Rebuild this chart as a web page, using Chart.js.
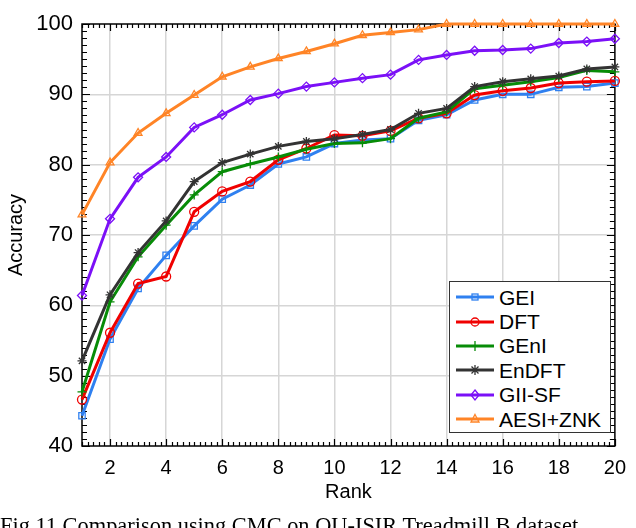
<!DOCTYPE html>
<html>
<head>
<meta charset="utf-8">
<script src="https://cdn.jsdelivr.net/npm/chart.js@4.4.1/dist/chart.umd.min.js"></script>
<style>
  html, body { margin: 0; padding: 0; background: #fff; overflow: hidden; }
  #wrap { position: relative; width: 636px; height: 528px; overflow: hidden; }
  #cmc { position: absolute; left: 0; top: 0; }
  #legend {
    position: absolute; left: 449px; top: 281px; width: 162px; height: 152px;
    border: 1px solid #333; background: #fff; box-sizing: border-box;
    padding-top: 3px;
  }
  .row { height: 24.4px; display: flex; align-items: center; }
  .row svg { margin-left: 6px; margin-right: 5px; }
  .row span { font-family: "Liberation Sans", Arial, sans-serif; font-size: 21px; color: #000; line-height: 1; }
  #caption {
    position: absolute; left: 0; top: 515px; white-space: nowrap;
    font-family: "Liberation Serif", "Times New Roman", serif; font-size: 22.4px; line-height: 1; color: #000;
  }
</style>
</head>
<body>
<div id="wrap">
  <canvas id="cmc" width="636" height="528"></canvas>
  <div id="legend"></div>
  <div id="caption">Fig.11 Comparison using CMC on OU-ISIR Treadmill B dataset</div>
</div>
<script>
// CMC curves, values
const ranks = [1, 2, 3, 4, 5, 6, 7, 8, 9, 10, 11, 12, 13, 14, 15, 16, 17, 18, 19, 20];
const xTickLabels = [2, 4, 6, 8, 10, 12, 14, 16, 18, 20];
const yTickLabels = [40, 50, 60, 70, 80, 90, 100];

const seriesNames = ['GEI', 'DFT', 'GEnI', 'EnDFT', 'GII-SF', 'AESI+ZNK'];
const gei   = [44.3, 55.2, 62.4, 67.1, 71.3, 75.1, 77.1, 80.1, 81.1, 83.0, 83.5, 83.7, 86.3, 87.1, 89.2, 90.0, 90.0, 91.0, 91.1, 91.6];
const dft   = [46.6, 56.1, 63.1, 64.1, 73.3, 76.2, 77.6, 80.7, 82.3, 84.2, 84.1, 84.8, 86.6, 87.3, 89.9, 90.5, 90.9, 91.6, 91.8, 91.9];
const geni  = [47.7, 60.5, 66.9, 71.4, 75.7, 79.0, 80.1, 81.1, 82.2, 83.0, 83.1, 83.7, 86.6, 87.5, 90.8, 91.3, 91.8, 92.4, 93.4, 93.2];
const endft = [52.1, 61.5, 67.5, 72.0, 77.6, 80.3, 81.5, 82.6, 83.3, 83.7, 84.3, 85.0, 87.3, 88.0, 91.1, 91.8, 92.2, 92.6, 93.6, 93.9];
const giisf = [61.4, 72.3, 78.2, 81.1, 85.3, 87.1, 89.2, 90.1, 91.1, 91.7, 92.3, 92.8, 94.9, 95.6, 96.2, 96.3, 96.5, 97.3, 97.5, 97.9];
const aesi  = [72.9, 80.3, 84.5, 87.3, 89.9, 92.5, 93.9, 95.1, 96.1, 97.2, 98.4, 98.8, 99.2, 100, 100, 100, 100, 100, 100, 100];

const seriesValues = [gei, dft, geni, endft, giisf, aesi];
const colors = ['#2f80f0', '#f00000', '#078c07', '#333333', '#7b10f7', '#ff8426'];
const markers = ['rect', 'circle', 'cross', 'star', 'rectRot', 'triangle'];

const datasets = seriesNames.map((name, i) => ({
    label: name,
    data: ranks.map((r, k) => ({ x: r, y: seriesValues[i][k] })),
    borderColor: colors[i],
    backgroundColor: colors[i],
    borderWidth: 3,
    pointStyle: markers[i],
    pointRadius: 4.5,
    pointBorderWidth: 1.3,
    pointBackgroundColor: 'rgba(0,0,0,0)',
    pointBorderColor: colors[i],
    tension: 0,
    clip: false,
    order: seriesNames.length - i // later series on top
}));

// box + inward ticks on all four sides (matlab look)
const boxTicks = {
    id: 'boxTicks',
    beforeDatasetsDraw(chart) {
        const { ctx, chartArea: a, scales: { x, y } } = chart;
        ctx.save();
        ctx.strokeStyle = '#000';
        ctx.lineWidth = 1.2;
        ctx.beginPath();
        for (let v = 1; v <= 20.001; v += 0.2) {
            const px = Math.round(x.getPixelForValue(v)) + 0.5;
            const major = Math.abs(v / 2 - Math.round(v / 2)) < 0.01;
            const len = major ? 7 : 4;
            ctx.moveTo(px, a.bottom); ctx.lineTo(px, a.bottom - len);
            ctx.moveTo(px, a.top); ctx.lineTo(px, a.top + len);
        }
        for (let v = 40; v <= 100; v += 1) {
            const py = Math.round(y.getPixelForValue(v)) + 0.5;
            const len = v % 10 === 0 ? 8 : 5;
            ctx.moveTo(a.left, py); ctx.lineTo(a.left + len, py);
            ctx.moveTo(a.right, py); ctx.lineTo(a.right - len, py);
        }
        ctx.stroke();
        ctx.lineWidth = 1.5;
        ctx.strokeRect(a.left, a.top, a.right - a.left, a.bottom - a.top);
        ctx.restore();
    }
};

const gridColor = (edgeA, edgeB) => c =>
    (c.tick && (c.tick.value === edgeA || c.tick.value === edgeB)) ? 'rgba(0,0,0,0)' : '#d6d6d6';

new Chart(document.getElementById('cmc'), {
    type: 'line',
    data: { datasets },
    plugins: [boxTicks],
    options: {
        responsive: false,
        animation: false,
        layout: { padding: { left: 0, top: 24, right: 12, bottom: 0 } },
        plugins: { legend: { display: false }, tooltip: { enabled: false } },
        scales: {
            x: {
                type: 'linear', min: 1, max: 20,
                afterBuildTicks: s => { s.ticks = xTickLabels.map(v => ({ value: v })); },
                afterFit: s => { s.height = 82; },
                grid: { color: gridColor(1, 20), lineWidth: 1.5, drawTicks: false },
                border: { display: false },
                ticks: { padding: 10, color: '#000', maxRotation: 0, font: { family: 'Liberation Sans', size: 20 } },
                title: { display: true, text: 'Rank', color: '#000', padding: { top: 0, bottom: 24 },
                         font: { family: 'Liberation Sans', size: 20 } }
            },
            y: {
                min: 40, max: 100,
                afterBuildTicks: s => { s.ticks = yTickLabels.map(v => ({ value: v })); },
                afterFit: s => { s.width = 82; },
                grid: { color: gridColor(40, 100), lineWidth: 1.5, drawTicks: false },
                border: { display: false },
                ticks: { padding: 9, color: '#000', font: { family: 'Liberation Sans', size: 22 } },
                title: { display: true, text: 'Accuracy', color: '#000', padding: { top: 4, bottom: 0 },
                         font: { family: 'Liberation Sans', size: 20 } }
            }
        }
    }
});

// html legend inside the plot, bottom right
function markerSvg(style, c) {
    const s = 'stroke="' + c + '" stroke-width="1.3" fill="none"';
    switch (style) {
        case 'rect': return '<rect x="16" y="6" width="6" height="6" ' + s + '/>';
        case 'circle': return '<circle cx="19" cy="9" r="4" ' + s + '/>';
        case 'cross': return '<path d="M19 4V14M14 9H24" ' + s + '/>';
        case 'star': return '<path d="M19 4V14M14 9H24M15.5 5.5L22.5 12.5M22.5 5.5L15.5 12.5" ' + s + '/>';
        case 'rectRot': return '<path d="M19 4L23 9L19 14L15 9Z" ' + s + '/>';
        default: return '<path d="M19 4.5L23 12H15Z" ' + s + '/>';
    }
}
const legendEl = document.getElementById('legend');
seriesNames.forEach((name, i) => {
    const row = document.createElement('div');
    row.className = 'row';
    row.innerHTML = '<svg width="38" height="18"><line x1="0" y1="9" x2="38" y2="9" stroke="' + colors[i] +
        '" stroke-width="3"/>' + markerSvg(markers[i], colors[i]) + '</svg><span>' + name + '</span>';
    legendEl.appendChild(row);
});
</script>
</body>
</html>
